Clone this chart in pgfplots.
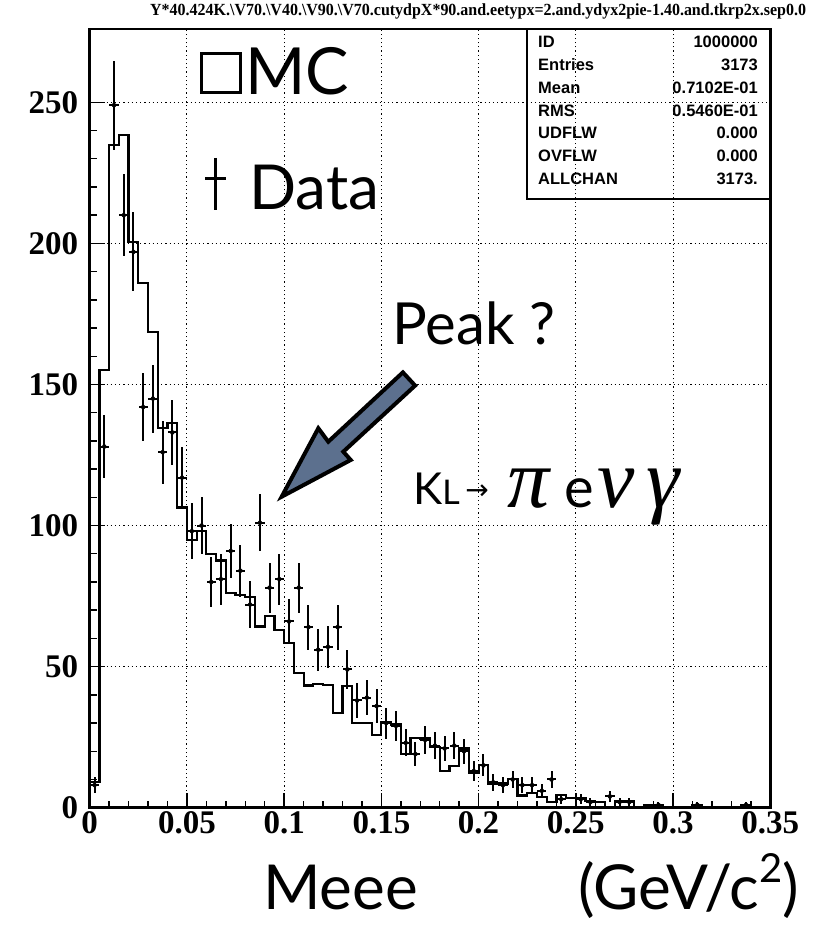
\documentclass[border=0pt]{standalone}
\usepackage{fontspec}
\setmainfont{Liberation Serif}
\newfontfamily\helv{Liberation Sans}
\newfontfamily\gill{Lato}
\newfontfamily\dejavu{DejaVu Sans}
\usepackage{pgfplots}
\pgfplotsset{compat=1.18}
\usepackage{pgfplotstable}

\pgfplotstableread{
x y
0 0
0.000 9
0.005 155
0.010 235
0.015 238.5
0.020 200.5
0.025 186
0.030 168.6
0.035 134.5
0.040 136.3
0.045 106.4
0.050 95
0.055 98
0.060 90
0.065 87.6
0.070 76
0.075 75.4
0.080 74.8
0.085 64.2
0.090 68
0.095 63
0.100 58.3
0.105 47.7
0.110 43.3
0.115 43.9
0.120 43.5
0.125 33.5
0.130 43
0.135 30
0.140 30
0.145 25.8
0.150 30.5
0.155 29.5
0.160 19
0.165 24.8
0.170 24.5
0.175 21.6
0.180 13
0.185 14.8
0.190 21
0.195 12.5
0.200 15.2
0.205 8.6
0.210 8.6
0.215 10.2
0.220 4.3
0.225 5.2
0.230 3.8
0.235 1.9
0.240 4.6
0.245 3.3
0.250 3.3
0.255 2.5
0.260 2
0.265 0
0.270 2.2
0.275 2.2
0.280 0
0.285 1
0.290 1
0.295 0
0.300 0
0.305 0
0.310 1
0.315 0
0.320 0
0.325 0
0.330 0
0.335 1
0.340 0
0.345 0
0.350 0
}\mctable

\pgfplotstableread{
x y
0.0025 8
0.0075 128
0.0125 249
0.0175 210
0.0225 197
0.0275 142
0.0325 145
0.0375 126
0.0425 133
0.0475 117
0.0525 98
0.0575 100
0.0625 80
0.0675 81
0.0725 91
0.0775 84
0.0825 72
0.0875 101
0.0925 78
0.0975 81
0.1025 66
0.1075 78
0.1125 64
0.1175 56
0.1225 57
0.1275 64
0.1325 49
0.1375 38
0.1425 39
0.1475 36
0.1525 30
0.1575 29
0.1625 23
0.1675 19
0.1725 24
0.1775 22
0.1825 21
0.1875 22
0.1925 20
0.1975 13
0.2025 15
0.2075 9
0.2125 8
0.2175 10
0.2225 8
0.2275 8
0.2325 6
0.2375 10
0.2425 3
0.2525 3
0.2575 2
0.2675 4
0.2725 2
0.2775 2
0.2925 1
0.3125 1
0.3375 1
}\datatable

\definecolor{arrowfill}{RGB}{92,112,142}

\begin{document}
\begin{tikzpicture}
\path[use as bounding box] (0pt,0pt) rectangle (837pt,936pt);
\begin{axis}[
  at={(89.7pt,128.3pt)}, anchor=south west,
  scale only axis, width=680.6pt, height=778.7pt,
  xmin=0, xmax=0.35, ymin=0, ymax=276,
  xtick={0,0.05,...,0.35}, ytick={0,50,...,250},
  minor x tick num=4, minor y tick num=4,
  scaled x ticks=false,
  xticklabel style={/pgf/number format/fixed, /pgf/number format/precision=2},
  /pgf/number format/assume math mode=true,
  ticklabel style={font=\fontsize{33}{33}\selectfont\bfseries},
  yticklabel style={xshift=-8pt},
  xtick pos=bottom, ytick pos=left,
  tick align=inside,
  major tick length=15pt, minor tick length=7pt,
  tick style={line width=1.4pt, black},
  axis line style={line width=2.8pt},
  grid=major,
  major grid style={line width=1pt, black, dash pattern=on 1.2pt off 3pt},
]
\addplot[const plot, black, line width=2.2pt, mark=none] table[x=x,y=y]{\mctable};
\addplot[only marks, mark=none,
  error bars/.cd, x dir=both, x fixed=0.0024, y dir=both, y explicit,
  error mark=none, error bar style={line width=2pt, black, solid}]
  table[x=x, y=y, y error expr={sqrt(\thisrow{y})}]{\datatable};
\end{axis}
\begin{scope}[shift={(0pt,936pt)}, x=1pt, y=-1pt]
% title (garbled PAW title)
\node[anchor=west, inner sep=0pt, xscale=0.94] at (150,11) {\fontsize{17}{17}\selectfont\bfseries Y*40.424K.\textbackslash V70.\textbackslash V40.\textbackslash V90.\textbackslash V70.cutydpX*90.and.eetypx=2.and.ydyx2pie-1.40.and.tkrp2x.sep0.0};
% stats box
\draw[line width=2pt] (527.3,29) -- (527.3,199.3) -- (770.3,199.3);
\foreach \lab/\val/\yy in {ID/1000000/42, Entries/3173/64.8, Mean/0.7102E-01/87.6, RMS/0.5460E-01/110.4, UDFLW/0.000/133.2, OVFLW/0.000/156, ALLCHAN/3173./178.8}{
  \node[anchor=west, inner sep=0pt] at (538,\yy) {\helv\bfseries\fontsize{16.5}{16.5}\selectfont \lab};
  \node[anchor=east, inner sep=0pt] at (758,\yy) {\helv\bfseries\fontsize{16.5}{16.5}\selectfont \val};
}
% legend-like annotations
\draw[line width=3pt] (201,54) rectangle (240,93);
\node[anchor=base west, inner sep=0pt] at (245,95) {\gill\fontsize{65}{65}\selectfont MC};
\draw[line width=3pt] (215,158) -- (215,210);
\draw[line width=3pt] (205,179) -- (226,179);
\node[anchor=base west, inner sep=0pt] at (249,210) {\gill\fontsize{62}{62}\selectfont Data};
\node[anchor=base west, inner sep=0pt] at (392,345) {\gill\fontsize{58}{58}\selectfont Peak ?};
% arrow
\filldraw[fill=arrowfill, draw=black, line width=4pt, line join=miter]
  (281.7,496.7) -- (318.3,428.3) -- (328.3,441.7) -- (402.9,372.4) -- (415.1,385.6) -- (343.3,451.7) -- (350.7,460) -- cycle;
% K_L -> pi e nu gamma
\node[anchor=base west, inner sep=0pt] at (413,505) {\gill\fontsize{44}{44}\selectfont K{\fontsize{34}{34}\selectfont L}};
\node[inner sep=0pt] at (477,492) {\dejavu\fontsize{28}{28}\selectfont →};
\node[anchor=base west, inner sep=0pt] at (507,508) {\itshape\fontsize{84}{84}\selectfont π};
\node[anchor=base west, inner sep=0pt] at (564,508) {\gill\fontsize{56}{56}\selectfont e};
\node[anchor=base west, inner sep=0pt] at (597,508) {\itshape\fontsize{84}{84}\selectfont ν};
\node[anchor=base west, inner sep=0pt] at (646,508) {\itshape\fontsize{84}{84}\selectfont γ};
% axis label
\node[anchor=base west, inner sep=0pt] at (263,910) {\gill\fontsize{62}{62}\selectfont Meee};
\node[anchor=base west, inner sep=0pt] at (578,910) {\gill\fontsize{62}{62}\selectfont (GeV/c\raisebox{0.45em}{\fontsize{40}{40}\selectfont 2})};
\end{scope}
\end{tikzpicture}
\end{document}
